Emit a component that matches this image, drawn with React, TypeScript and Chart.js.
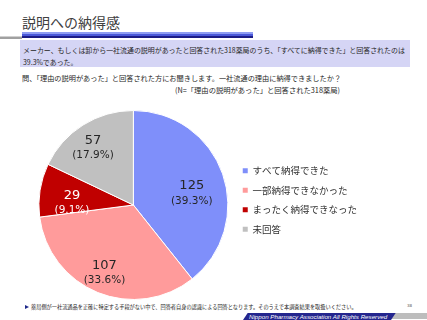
import React, { useEffect, useRef } from "react";
import { Chart, registerables, DoughnutController } from "chart.js";

Chart.register(...registerables);

const categories = ["すべて納得できた", "一部納得できなかった", "まったく納得できなった", "未回答"];
const counts = [125, 107, 29, 57];
const percentLabels = ["39.3%", "33.6%", "9.1%", "17.9%"];

const sliceColors = ["#7F8FFA", "#FF9B9B", "#C00000", "#C0C0C0"];
const labelColors = ["#262626", "#262626", "#FFFFFF", "#262626"];
const labelRadiusFactor = [0.63, 0.78, 0.65, 0.74];
const labelAngleNudgeDeg = [8, 1, -7, -3];

const JP = "'Noto Sans CJK JP', 'Noto Sans', sans-serif";

const sliceLabelPlugin = {
  id: "sliceLabels",
  afterDatasetsDraw(chart: any) {
    const meta = chart.getDatasetMeta(0);
    const ctx = chart.ctx;
    ctx.save();
    ctx.textAlign = "center";
    ctx.textBaseline = "middle";
    meta.data.forEach((arc: any, i: number) => {
      const p = arc.getProps(["x", "y", "startAngle", "endAngle", "outerRadius"], true);
      const mid = (p.startAngle + p.endAngle) / 2 + (labelAngleNudgeDeg[i] * Math.PI) / 180;
      const r = p.outerRadius * labelRadiusFactor[i];
      const cx = p.x + Math.cos(mid) * r;
      const cy = p.y + Math.sin(mid) * r;
      ctx.fillStyle = labelColors[i];
      ctx.font = "13px 'DejaVu Sans'";
      ctx.fillText(String(counts[i]), cx, cy - 7.5);
      ctx.font = "10.5px 'DejaVu Sans'";
      ctx.fillText("(" + percentLabels[i] + ")", cx, cy + 7.5);
    });
    ctx.restore();
  },
};

function PieChart() {
  const ref = useRef<HTMLCanvasElement | null>(null);
  useEffect(() => {
    if (!ref.current) return;
    const baseGen = (DoughnutController as any).overrides.plugins.legend.labels.generateLabels;
    const chart = new Chart(ref.current, {
      type: "pie",
      data: {
        labels: categories,
        datasets: [
          {
            data: counts,
            backgroundColor: sliceColors,
            borderColor: "#FFFFFF",
            borderWidth: 1,
          },
        ],
      },
      options: {
        animation: false,
        responsive: false,
        maintainAspectRatio: false,
        plugins: {
          tooltip: { enabled: false },
          legend: {
            position: "right",
            align: "start",
            title: {
              display: true,
              text: " ",
              color: "rgba(0,0,0,0)",
              font: { size: 10 },
              padding: { top: 34, bottom: 0 },
            },
            labels: {
              boxWidth: 5,
              boxHeight: 5,
              padding: 10,
              color: "#333333",
              font: { family: JP, size: 9.5 },
              generateLabels: (c: any) =>
                baseGen(c).map((l: any) => ({ ...l, lineWidth: 0, strokeStyle: l.fillStyle })),
            },
          },
        },
      },
      plugins: [sliceLabelPlugin],
    } as any);
    return () => chart.destroy();
  }, []);
  return (
    <canvas
      ref={ref}
      width={333}
      height={190}
      style={{ position: "absolute", left: 34, top: 110, width: 333, height: 190 }}
    />
  );
}

export default function App() {
  const abs = (o: React.CSSProperties): React.CSSProperties => ({ position: "absolute", whiteSpace: "nowrap", ...o });
  return (
    <div
      style={{
        position: "absolute",
        left: 0,
        top: 0,
        width: 427,
        height: 320,
        background: "#FFFFFF",
        overflow: "hidden",
        fontFamily: JP,
      }}
    >
      {/* title */}
      <div style={abs({ left: 22, top: 15, fontSize: 14, lineHeight: "15px", color: "#404040" })}>説明への納得感</div>
      {/* decorative rule */}
      <div style={abs({ left: 0, top: 36, width: 22, height: 1, background: "#D0D0D0" })} />
      <div style={abs({ left: 0, top: 37, width: 22, height: 1.5, background: "#A0A0A0" })} />
      <div style={abs({ left: 22, top: 32, width: 231, height: 2, background: "#8E9CF2" })} />
      <div style={abs({ left: 22, top: 34, width: 231, height: 1.5, background: "#4A58D8" })} />
      <div style={abs({ left: 22, top: 35.5, width: 231, height: 2, background: "#1C1C86" })} />
      {/* summary box */}
      <div style={abs({ left: 20, top: 40, width: 390, height: 27, background: "#D5D5F5" })} />
      <div style={abs({ left: 23, top: 46, fontSize: 6.95, lineHeight: "8px", color: "#262626" })}>
        メーカー、もしくは卸から一社流通の説明があったと回答された318薬局のうち、「すべてに納得できた」と回答されたのは
      </div>
      <div style={abs({ left: 23, top: 57.5, fontSize: 6.95, lineHeight: "8px", color: "#262626" })}>39.3%であった。</div>
      {/* question */}
      <div style={abs({ left: 22, top: 74, fontSize: 7.2, lineHeight: "8px", color: "#262626" })}>
        問、「理由の説明があった」と回答された方にお聞きします。一社流通の理由に納得できましたか？
      </div>
      <div style={abs({ right: 427 - 340, top: 86, fontSize: 7.3, lineHeight: "8px", color: "#262626" })}>
        (N=「理由の説明があった」と回答された318薬局)
      </div>

      <PieChart />

      {/* footer */}
      <div
        style={abs({
          left: 25,
          top: 304.5,
          width: 0,
          height: 0,
          borderTop: "2.5px solid transparent",
          borderBottom: "2.5px solid transparent",
          borderLeft: "4px solid #1F2A8A",
        })}
      />
      <div style={abs({ left: 31, top: 304, fontSize: 5.2, lineHeight: "6px", color: "#222222" })}>
        薬局側が一社流通品を正確に特定する手段がない中で、回答者自身の認識による回答となります。そのうえで本調査結果を取扱いください。
      </div>
      <div style={abs({ left: 407, top: 303, fontSize: 4, lineHeight: "5px", color: "#555555", fontFamily: "'DejaVu Sans'" })}>38</div>
      <div style={abs({ left: 390, top: 313, width: 37, height: 6, background: "#BDBDBD", clipPath: "polygon(3px 0, 100% 0, 100% 100%, 0 100%)" })} />
      <div
        style={abs({
          left: 243,
          top: 312.5,
          width: 153,
          height: 7.5,
          background: "#24268E",
          clipPath: "polygon(5px 0, 100% 0, calc(100% - 5px) 100%, 0 100%)",
        })}
      />
      <div
        style={abs({
          left: 249,
          top: 312.5,
          fontSize: 6.2,
          lineHeight: "7.5px",
          color: "#FFFFFF",
          fontStyle: "italic",
          fontFamily: "'Liberation Sans', sans-serif",
        })}
      >
        Nippon Pharmacy Association All Rights Reserved
      </div>
    </div>
  );
}
